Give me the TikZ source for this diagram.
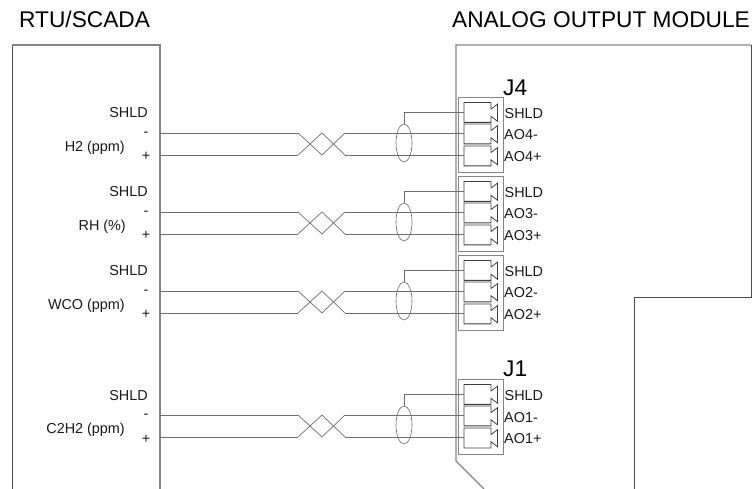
\documentclass[tikz,border=0pt]{standalone}
\usepackage{fontspec}
\setmainfont{Liberation Sans}
\usetikzlibrary{shapes.geometric}
\definecolor{linegray}{HTML}{6E6E6E}
\definecolor{boxgray}{HTML}{858585}
\tikzset{
  wire/.style={draw=linegray,line width=0.9pt},
  thinwire/.style={draw=linegray,line width=0.7pt},
  term/.style={minimum width=26.5pt,minimum height=19.5pt,inner sep=0pt,anchor=north west},
  termline/.style={draw=black!75,line width=0.8pt,line join=miter},
  housing/.style={draw=boxgray,line width=1.1pt},
  housingdark/.style={draw=black!70,line width=0.8pt},
  shield/.style={draw=black!60,line width=0.6pt,ellipse,minimum width=16pt,minimum height=38pt,inner sep=0pt},
  lbl/.style={font=\fontsize{14.4pt}{16pt}\selectfont,inner sep=0pt,text=black!90},
  ttl/.style={font=\fontsize{22.7pt}{26pt}\selectfont,inner sep=0pt,text=black},
}
\begin{document}
\begin{tikzpicture}[x=1pt,y=-1pt]
\useasboundingbox (0,0) rectangle (756,489);
\node[ttl,anchor=base west] (t1) at (19,28) {RTU/SCADA};
\node[ttl,anchor=base west] (t2) at (452,28) {ANALOG OUTPUT MODULE};
% housings
\draw[housingdark] (12,489) -- (12,45);
\draw[housing] (12,45) -- (160,45) -- (160,489);
\draw[housing] (484,489) -- (456,461) -- (456,45) -- (751,45);
\draw[housingdark] (751,45) -- (751,297) -- (634,297) -- (634,489);
\node[ttl,anchor=base west] (j4) at (503,96) {J4};
\node[ttl,anchor=base west] (j1) at (503,377) {J1};
% channels
\foreach \o/\n/\lab/\chan/\lx in {0/a/H2 (ppm)/4/125,79/b/RH (\%)/3/126,158/c/WCO (ppm)/2/125,282/d/C2H2 (ppm)/1/125}{
  \begin{scope}[yshift=-\o pt]
    \node[housing,draw,line width=0.9pt,minimum width=45pt,minimum height=75.5pt,inner sep=0pt,anchor=north west] (box\n) at (458,96.7) {};
    \node[term] (s\n) at (464,102.5) {};
    \node[term] (m\n) at (464,124) {};
    \node[term] (p\n) at (464,146) {};
    \foreach \t in {s,m,p}{
      \draw[termline] (\t\n.east) ++(0,-3.5) -- (\t\n.north east) -- (\t\n.north west) -- (\t\n.south west) -- (\t\n.south east) -- ++(0,-6.2)
        -- ++(6.5,5) -- ++(0,-17) -- ++(-6.5,5);
    }
    \node[lbl,anchor=base east] (ls\n) at (148,118) {SHLD};
    \node[lbl,anchor=base] (lm\n) at (146,137) {-};
    \node[lbl,anchor=base] (lp\n) at (146,161) {+};
    \node[lbl,anchor=base east] (ln\n) at (\lx,152) {\lab};
    \node[lbl,anchor=base west] (rs\n) at (504.5,118.5) {SHLD};
    \node[lbl,anchor=base west] (rm\n) at (504,140) {AO\chan-};
    \node[lbl,anchor=base west] (rp\n) at (504,161.5) {AO\chan+};
    \coordinate (wa\n) at (160,133);
    \coordinate (wb\n) at (160,155);
    \coordinate (xa\n) at (298,133);
    \coordinate (xb\n) at (298,155);
    \coordinate (ya\n) at (322,155);
    \coordinate (yb\n) at (322,133);
    \coordinate (za\n) at (345,133);
    \coordinate (zb\n) at (345,155);
    \draw[wire] (wa\n) -- (xa\n);
    \draw[wire] (wb\n) -- (xb\n);
    \draw[thinwire] (xa\n) -- (ya\n) -- (za\n);
    \draw[thinwire] (xb\n) -- (yb\n) -- (zb\n);
    \draw[wire] (za\n) -- (za\n -| m\n.west);
    \draw[wire] (zb\n) -- (zb\n -| p\n.west);
    \node[shield] (e\n) at (404,143) {};
    \draw[wire] (e\n.north) |- (s\n.west);
  \end{scope}
}
\end{tikzpicture}
\end{document}
